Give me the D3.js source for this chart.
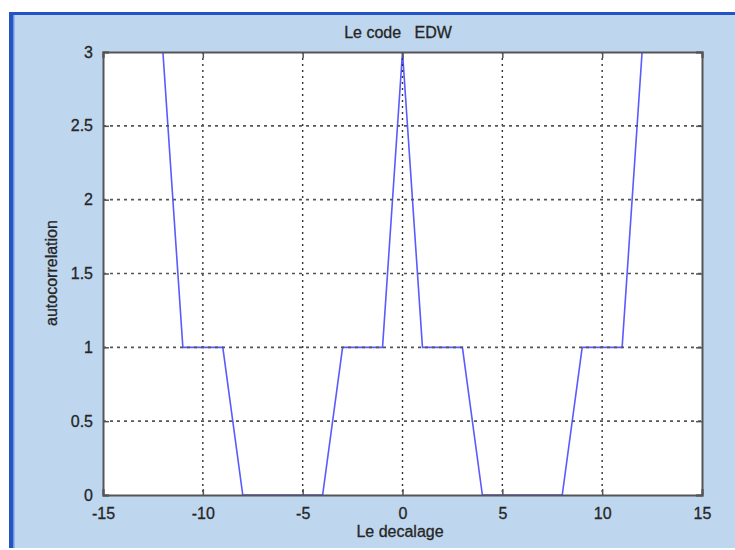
<!DOCTYPE html>
<html><head><meta charset="utf-8">
<script src="https://cdn.jsdelivr.net/npm/d3@7"></script>
<style>html,body{margin:0;padding:0;background:#fff;}svg{display:block;}</style>
</head><body>
<script>
const lags = [-12,-11,-10,-9,-8,-7,-6,-5,-4,-3,-2,-1,0,1,2,3,4,5,6,7,8,9,10,11,12];
const autocorr = [3,1,1,1,0,0,0,0,0,1,1,1,3,1,1,1,0,0,0,0,0,1,1,1,3];
const xTicks = [-15,-10,-5,0,5,10,15];
const yTicks = [0,0.5,1,1.5,2,2.5,3];
const titleText = "Le code   EDW";
const xLabel = "Le decalage";
const yLabel = "autocorrelation";

const W = 735, H = 550;
const m = {left:103, top:52, right:702, bottom:495};
const svg = d3.select("body").append("svg").attr("width",W).attr("height",H);
svg.append("rect").attr("width",W).attr("height",H).attr("fill","#fff");
svg.append("rect").attr("x",9).attr("y",12).attr("width",W-9).attr("height",536).attr("fill","#bed6ee");
svg.append("rect").attr("x",9).attr("y",12).attr("width",W-9).attr("height",3).attr("fill","#2552c4");
svg.append("rect").attr("x",9).attr("y",12).attr("width",4).attr("height",536).attr("fill","#2552c4");
svg.append("rect").attr("x",13).attr("y",15).attr("width",1.5).attr("height",533).attr("fill","#6f95dc");

const x = d3.scaleLinear().domain([-15,15]).range([m.left,m.right]);
const y = d3.scaleLinear().domain([0,3]).range([m.bottom,m.top]);
const font = "'Liberation Sans', Arial, sans-serif";
const tc = "#262626";
const fs = "16px";

svg.append("rect").attr("x",m.left).attr("y",m.top).attr("width",m.right-m.left).attr("height",m.bottom-m.top).attr("fill","#fff");

svg.append("defs").append("clipPath").attr("id","clip").append("rect")
  .attr("x",m.left).attr("y",m.top).attr("width",m.right-m.left).attr("height",m.bottom-m.top);

// data line
const line = d3.line().x((d,i)=>x(lags[i])).y(d=>y(d));
svg.append("path").datum(autocorr).attr("d",line).attr("fill","none")
  .attr("stroke","#5a5aff").attr("stroke-width",1.6).attr("clip-path","url(#clip)");

// grid
const g = svg.append("g");
g.selectAll("line.vx").data(xTicks.slice(1,-1)).join("line")
  .attr("x1",d=>x(d)).attr("x2",d=>x(d)).attr("y1",m.top).attr("y2",m.bottom)
  .attr("stroke","#333").attr("stroke-width",1.4).attr("stroke-dasharray","2,4");
g.selectAll("line.hy").data(yTicks.slice(1,-1)).join("line")
  .attr("y1",d=>y(d)).attr("y2",d=>y(d)).attr("x1",m.left).attr("x2",m.right)
  .attr("stroke","#555").attr("stroke-width",1.6).attr("stroke-dasharray","3,4");

// axes (inward ticks, MATLAB style)
const ax = d3.axisBottom(x).tickValues(xTicks).tickSize(-6).tickPadding(13).tickFormat(d=>String(d));
const ay = d3.axisLeft(y).tickValues(yTicks).tickSize(-6).tickPadding(10).tickFormat(d=>String(d));
const axT = d3.axisTop(x).tickValues(xTicks).tickSize(-6).tickFormat("");
const ayR = d3.axisRight(y).tickValues(yTicks).tickSize(-6).tickFormat("");
function style(sel){
  sel.selectAll("path").attr("stroke","#555").attr("stroke-width",2);
  sel.selectAll(".tick line").attr("stroke","#555").attr("stroke-width",1.5);
  sel.selectAll("text").attr("fill",tc).style("font-family",font).style("font-size",fs)
    .attr("stroke",tc).attr("stroke-width",0.3);
}
svg.append("g").attr("transform",`translate(0,${m.bottom})`).call(ax).call(style);
svg.append("g").attr("transform",`translate(${m.left},0)`).call(ay).call(style);
svg.append("g").attr("transform",`translate(0,${m.top})`).call(axT).call(style);
svg.append("g").attr("transform",`translate(${m.right},0)`).call(ayR).call(style);

function label(sel){
  return sel.attr("text-anchor","middle").attr("fill",tc).attr("stroke",tc).attr("stroke-width",0.3)
    .style("font-family",font).style("font-size",fs);
}
svg.append("text").attr("x",398).attr("y",38).attr("xml:space","preserve").style("white-space","pre")
  .call(label).text(titleText);
svg.append("text").attr("x",400).attr("y",537).call(label).text(xLabel);
svg.append("text").attr("transform","translate(57,273) rotate(-90)").call(label).text(yLabel);
</script>
</body></html>
